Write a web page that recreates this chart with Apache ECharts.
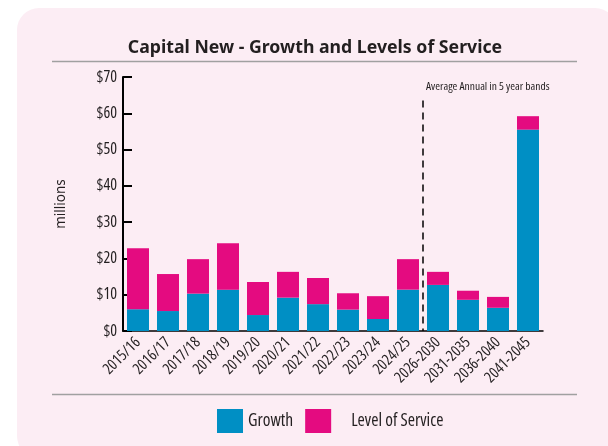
<!DOCTYPE html>
<html><head><meta charset="utf-8">
<script src="https://cdn.jsdelivr.net/npm/echarts@6/dist/echarts.min.js"></script>
<style>html,body{margin:0;padding:0;background:#fff;}#c{width:608px;height:446px;}</style>
</head><body><div id="c"></div>
<script>
const categories = ['2015/16','2016/17','2017/18','2018/19','2019/20','2020/21','2021/22','2022/23','2023/24','2024/25','2026-2030','2031-2035','2036-2040','2041-2045'];
const growth = [6.0, 5.5, 10.3, 11.4, 4.4, 9.2, 7.4, 5.9, 3.3, 11.4, 12.7, 8.6, 6.4, 55.5];
const levelOfService = [16.8, 10.2, 9.5, 12.8, 9.1, 7.1, 7.2, 4.5, 6.3, 8.4, 3.6, 2.5, 3.0, 3.7];
const yTicks = [0, 10, 20, 30, 40, 50, 60, 70];

const COND = "'Open Sans'";
const TXT = '#231F20';
const chart = echarts.init(document.getElementById('c'));
const option = {
  backgroundColor: '#ffffff',
  animation: false,
  title: {
    text: 'Capital New - Growth and Levels of Service',
    left: 310, top: 34, textAlign: 'center',
    textStyle: {fontFamily: "'Noto Sans',sans-serif", fontWeight: 'bold', fontSize: 17.7, color: TXT}
  },
  legend: {
    left: 212, top: 404, itemWidth: 26, itemHeight: 24, itemGap: 12,
    icon: 'rect',
    textStyle: {fontFamily: COND, fontStyle: 'condensed', fontSize: 17.5, color: TXT},
    data: [
      {name: 'Growth', textStyle: {padding: [0, 0, 0, 0]}},
      {name: 'Level of Service', textStyle: {padding: [0, 0, 0, 15]}}
    ]
  },
  grid: {left: 123, right: 65, top: 77, bottom: 115},
  xAxis: {
    type: 'category', data: categories,
    axisLine: {lineStyle: {color: '#000', width: 1.5}},
    axisTick: {inside: true, length: 5, lineStyle: {color: '#000', width: 1.5}},
    axisLabel: {rotate: 45, fontFamily: COND, fontStyle: 'condensed', fontSize: 15.5, color: TXT, margin: 9, interval: 0}
  },
  yAxis: {
    type: 'value', min: yTicks[0], max: yTicks[yTicks.length - 1], interval: 10,
    name: 'millions', nameLocation: 'middle', nameGap: 55, nameRotate: 90,
    nameTextStyle: {fontFamily: "'Noto Sans',sans-serif", fontSize: 13.5, color: TXT},
    axisLine: {show: true, lineStyle: {color: '#000', width: 2}},
    axisTick: {show: true, inside: true, length: 9, lineStyle: {color: '#000', width: 2}},
    splitLine: {show: false},
    axisLabel: {formatter: '${value}', fontFamily: COND, fontStyle: 'condensed', fontSize: 16, color: TXT, margin: 6}
  },
  series: [
    {name: 'Growth', type: 'bar', stack: 'a', data: growth, barWidth: 22, itemStyle: {color: '#008FC4'}},
    {name: 'Level of Service', type: 'bar', stack: 'a', data: levelOfService, barWidth: 22, itemStyle: {color: '#E40B80'}}
  ]
};
chart.setOption(option);

// Panel, rules and the 5-year divider, positioned from the axis scale
const xa = chart.convertToPixel({xAxisIndex: 0}, 9);
const xb = chart.convertToPixel({xAxisIndex: 0}, 10);
const xDiv = (xa + xb) / 2;
const yTop = chart.convertToPixel({yAxisIndex: 0}, 63.5);
const yBot = chart.convertToPixel({yAxisIndex: 0}, 0);
chart.setOption({
  graphic: [
    {type: 'rect', z: -10, silent: true, shape: {x: 17, y: 8, width: 600, height: 450, r: 22}, style: {fill: '#FCEDF4'}},
    {type: 'line', silent: true, shape: {x1: 52, y1: 61.5, x2: 577, y2: 61.5}, style: {stroke: '#A0A0A0', lineWidth: 1.5}},
    {type: 'line', silent: true, shape: {x1: 52, y1: 394.5, x2: 577, y2: 394.5}, style: {stroke: '#A0A0A0', lineWidth: 1.5}},
    {type: 'line', silent: true, shape: {x1: xDiv, y1: yTop, x2: xDiv, y2: yBot}, style: {stroke: '#000', lineWidth: 1.5, lineDash: [7, 5]}},
    {type: 'text', silent: true, x: xDiv + 3, y: 81, style: {text: 'Average Annual in 5 year bands', fontFamily: COND, fontStyle: 'condensed', fontSize: 11.5, fill: TXT}}
  ]
});
</script></body></html>
